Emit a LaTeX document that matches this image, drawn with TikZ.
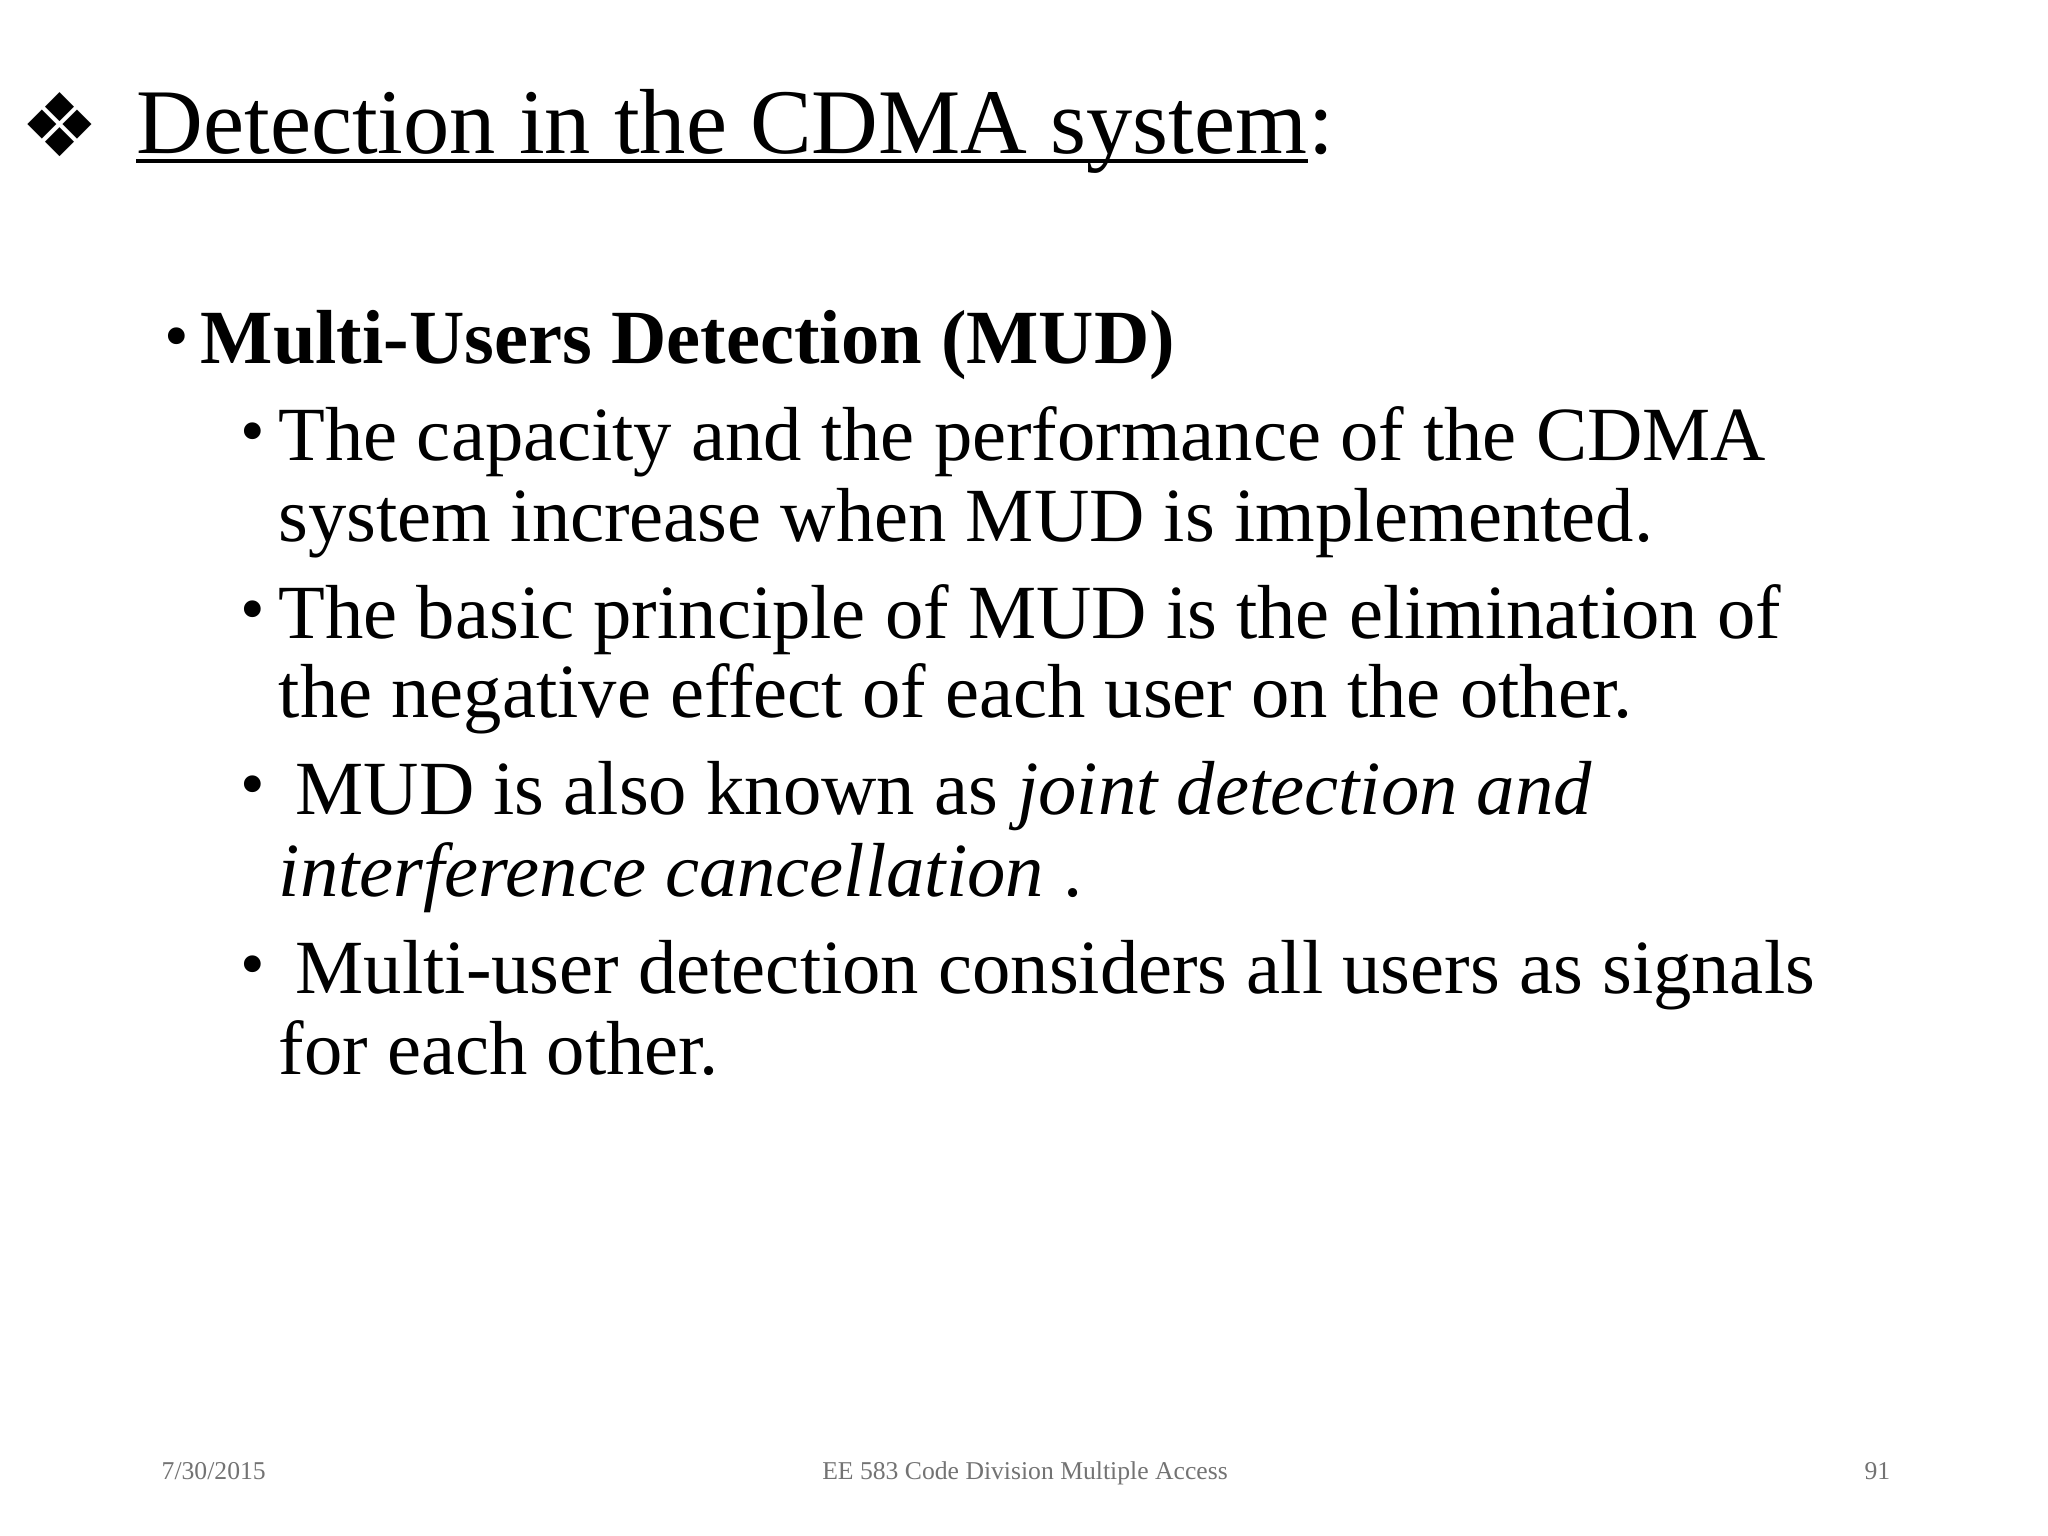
\documentclass[tikz,border=0pt]{standalone}
\usepackage{fontspec}
\setmainfont{Liberation Serif}
\newfontfamily\symfont{DejaVu Sans}
\begin{document}
\begin{tikzpicture}[x=1cm,y=1cm,
  txt/.style={anchor=base west,inner sep=0pt,font=\fontsize{21.8}{25}\selectfont},
  bul/.style={anchor=base west,inner sep=0pt,font=\fontsize{20}{24}\selectfont},
  foot/.style={anchor=base,inner sep=0pt,text=black!55,font=\fontsize{7.3}{9}\selectfont}]
\useasboundingbox[fill=white] (0,0) rectangle (20.48,-15.36);
\node[anchor=center,inner sep=0pt,font=\symfont\fontsize{25}{28}\selectfont] (dia) at (0.6,-1.25) {❖};
\node[anchor=base west,inner sep=0pt,font=\fontsize{26.3}{30}\selectfont] (title) at (1.36,-1.54) {Detection in the CDMA system};
\node[anchor=base west,inner sep=0pt,font=\fontsize{26.3}{30}\selectfont] (colon) at (title.base east) {:};
\draw[line width=0.9pt] ([yshift=-0.07cm]title.base west) -- ([yshift=-0.07cm]title.base east);
\node[bul] (b0) at (1.64,-3.60) {•};
\node[txt,font=\bfseries\fontsize{21.8}{25}\selectfont] (t0) at (2.0,-3.64) {Multi-Users Detection (MUD)};
\node[bul] (b1) at (2.4,-4.55) {•};
\node[txt] (t1) at (2.78,-4.61) {The capacity and the performance of the CDMA};
\node[txt] (t1b) at (2.78,-5.42) {system increase when MUD is implemented.};
\node[bul] (b2) at (2.4,-6.33) {•};
\node[txt] (t2) at (2.78,-6.39) {The basic principle of MUD is the elimination of};
\node[txt] (t2b) at (2.78,-7.18) {the negative effect of each user on the other.};
\node[bul] (b3) at (2.4,-8.08) {•};
\node[txt] (t3) at (2.95,-8.14) {MUD is also known as \textit{joint detection and}};
\node[txt] (t3b) at (2.78,-8.96) {\textit{interference cancellation} .};
\node[bul] (b4) at (2.4,-9.87) {•};
\node[txt] (t4) at (2.95,-9.93) {Multi-user detection considers all users as signals};
\node[txt] (t4b) at (2.78,-10.74) {for each other.};
\node[foot,anchor=base west] (f1) at (1.61,-14.79) {7/30/2015};
\node[foot] (f2) at (10.25,-14.79) {EE 583 Code Division Multiple Access};
\node[foot,anchor=base east] (f3) at (18.91,-14.79) {91};
\end{tikzpicture}
\end{document}
